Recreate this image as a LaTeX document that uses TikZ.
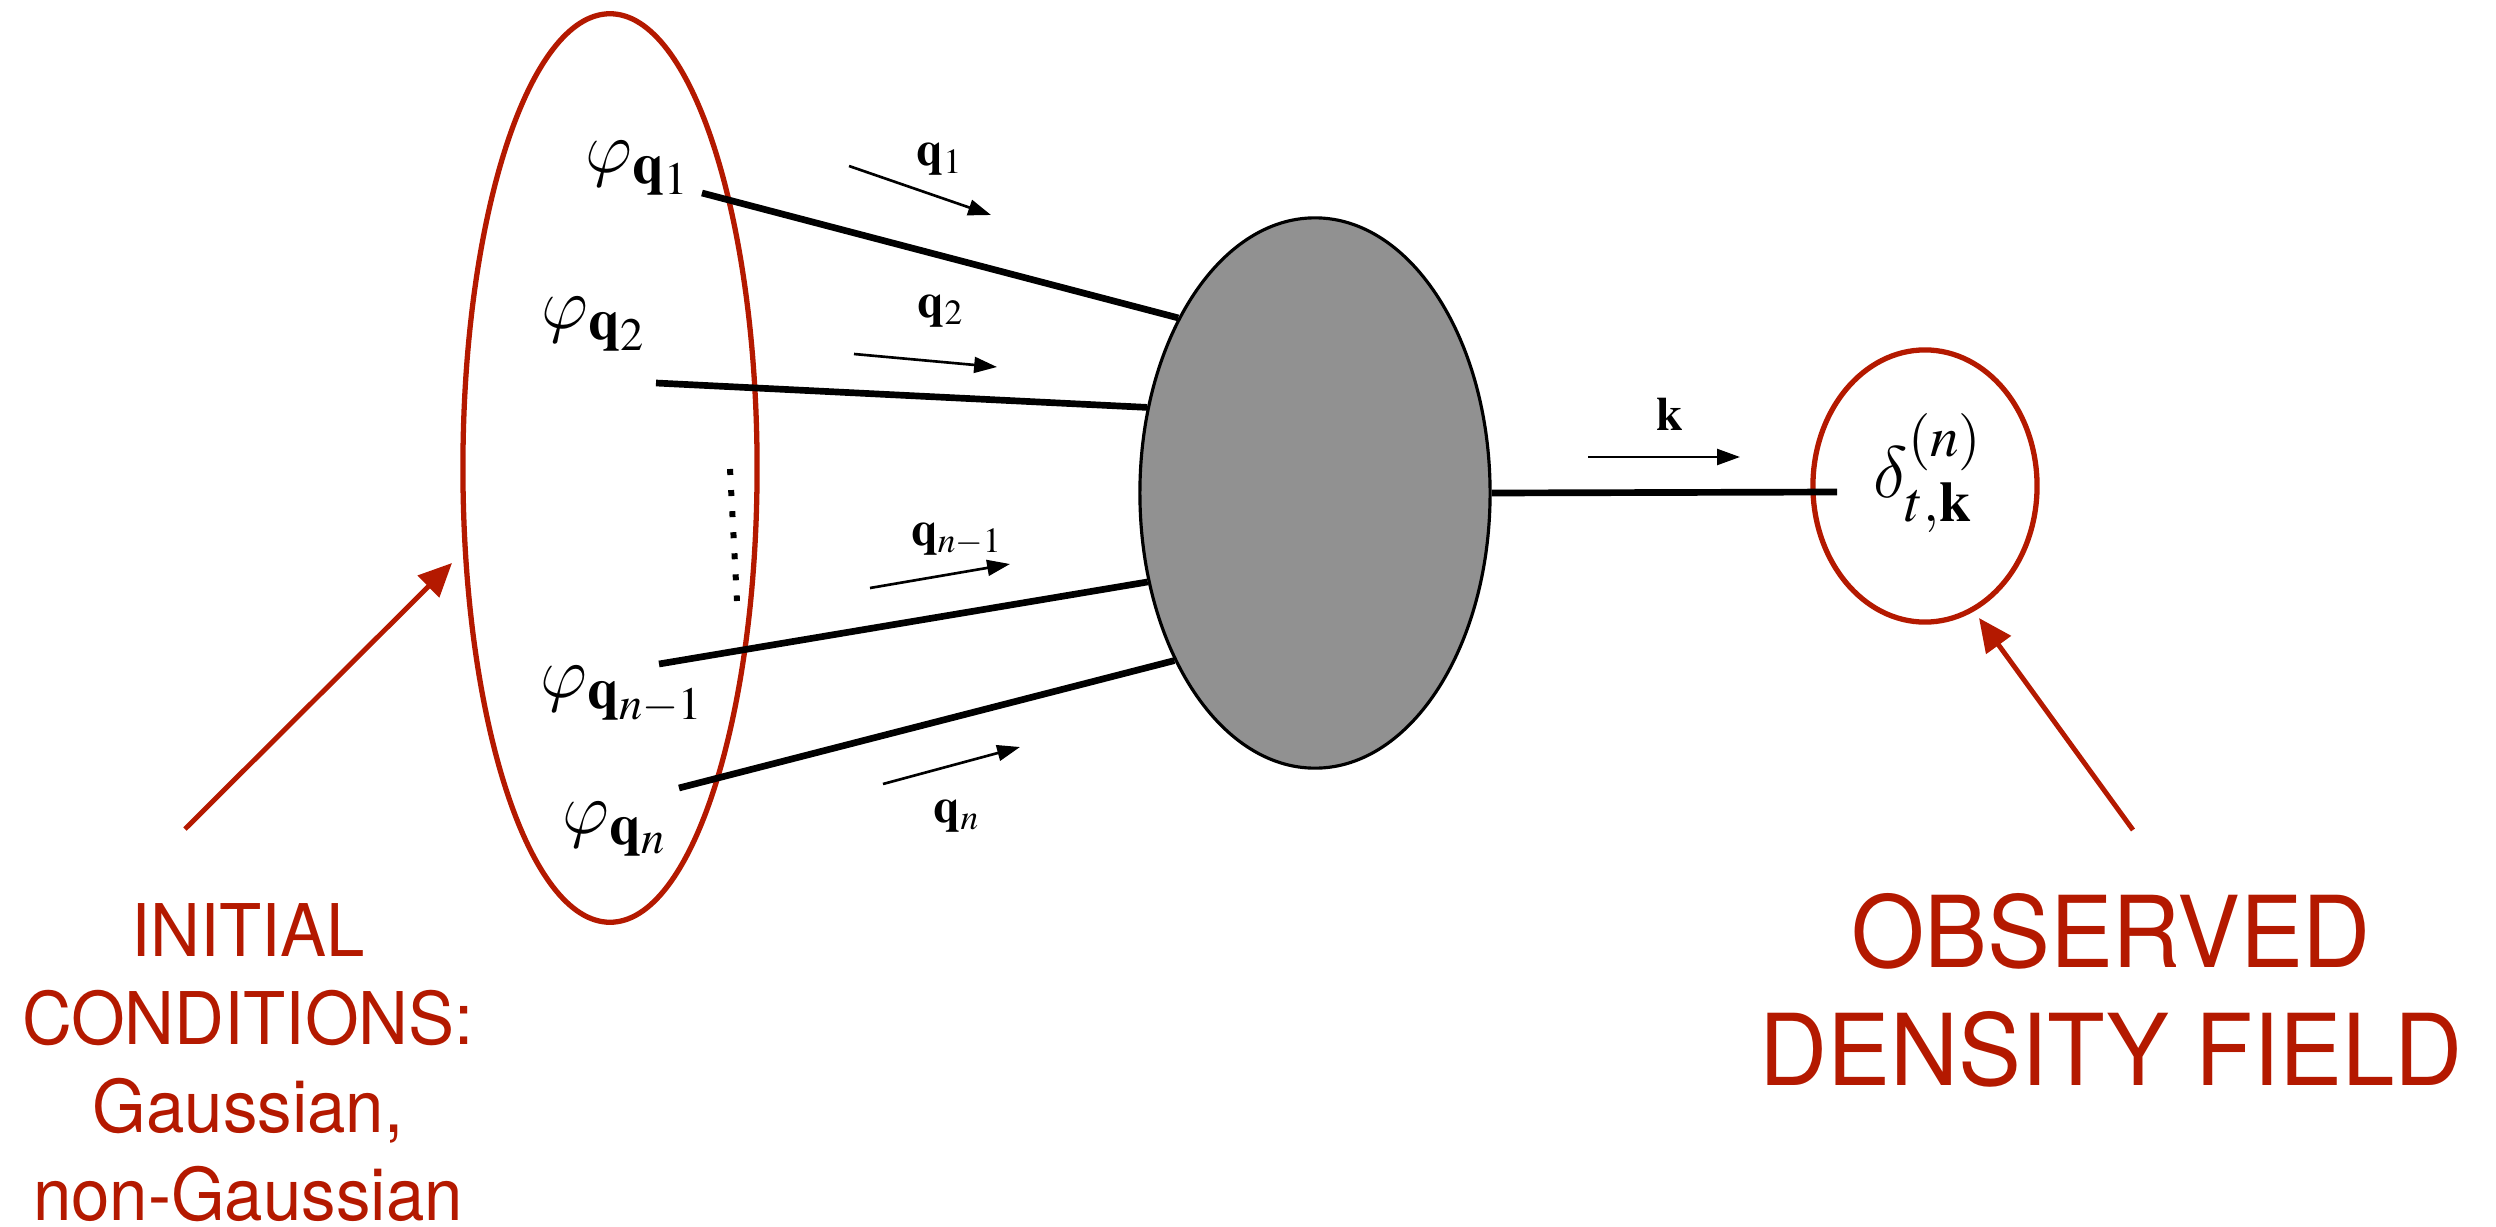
\documentclass[tikz,border=0pt]{standalone}
\usepackage{mathptmx}
\usepackage[no-math]{fontspec}
\usepackage{graphicx}
\usetikzlibrary{shapes.geometric,arrows.meta}
\DeclareSymbolFont{cmletters}{OML}{cmm}{m}{it}
\DeclareMathSymbol{\cmvarphi}{\mathord}{cmletters}{"27}
\DeclareMathSymbol{\cmdelta}{\mathord}{cmletters}{"0E}
\newfontfamily\annfont{TeX Gyre Heros}
\definecolor{annred}{RGB}{180,25,0}
\definecolor{blobgray}{RGB}{145,145,145}
\newcommand\sqz[1]{\scalebox{0.95}[1]{#1}}
\begin{document}
\begin{tikzpicture}[x=0.01cm,y=-0.01cm,
  thickline/.style={line width=1.9pt},
  thinarrow/.style={line width=0.75pt,-{Triangle[length=6.5pt,width=4.5pt]}},
  redarrow/.style={draw=annred,line width=1.4pt,-{Triangle[length=9.5pt,width=8.5pt]}},
  redring/.style={draw=annred,line width=1.5pt,ellipse,inner sep=0pt},
  mathlbl/.style={inner sep=0pt,font=\fontsize{22pt}{26pt}\selectfont},
  smalllbl/.style={inner sep=0pt,font=\fontsize{13.6pt}{16pt}\selectfont},
  anntext/.style={inner sep=0pt,align=center,text=annred},
]
\useasboundingbox (0,0) rectangle (2496,1227);

% ellipses
\node[redring,minimum width=2.94cm,minimum height=9.08cm] (ic) at (610,468) {};
\node[redring,minimum width=2.24cm,minimum height=2.72cm] (obs) at (1925,486) {};

% start points of the mode lines
\coordinate (s1) at (702,193);
\coordinate (s2) at (656,383);
\coordinate (s3) at (659,664);
\coordinate (s4) at (679,788);
\coordinate (kend) at (1837,492);

\node[ellipse,draw,fill=blobgray,line width=0.9pt,inner sep=0pt,
      minimum width=3.5cm,minimum height=5.5cm] (blob) at (1315,493) {};

\draw[thickline] (s1) -- (blob.128.1);
\draw[thickline] (s2) -- (blob.153.2);
\draw[thickline] (s3) -- (blob.208.5);
\draw[thickline] (s4) -- (blob.230.1);
\draw[thickline] (blob.east) -- (kend);

% vertical dots
\coordinate (d1) at (730,469);
\coordinate (d2) at (737,601);
\draw[line width=1.7pt,dash pattern=on 1.7pt off 4.3pt] (d1) -- (d2);

% field labels
\node[mathlbl,anchor=base west] (phi1) at (585,172) {$\cmvarphi_{\mathbf{q}_1}$};
\node[mathlbl,anchor=base west] (phi2) at (541,328) {$\cmvarphi_{\mathbf{q}_2}$};
\node[mathlbl,anchor=base west] (phin1) at (540,697) {$\cmvarphi_{\mathbf{q}_{n-1}}$};
\node[mathlbl,anchor=base west] (phin) at (562,833) {$\cmvarphi_{\mathbf{q}_n}$};
\node[mathlbl,anchor=base west] (delta) at (1873,497) {$\cmdelta^{(n)}_{t,\mathbf{k}}$};

% momentum arrows
\coordinate (a1s) at (849,166);  \coordinate (a1e) at (991,215);
\coordinate (a2s) at (854,354);  \coordinate (a2e) at (997,367);
\coordinate (a3s) at (870,588);  \coordinate (a3e) at (1010,564);
\coordinate (a4s) at (883,784);  \coordinate (a4e) at (1020,747);
\coordinate (aks) at (1588,457); \coordinate (ake) at (1740,457);
\draw[thinarrow] (a1s) -- (a1e);
\draw[thinarrow] (a2s) -- (a2e);
\draw[thinarrow] (a3s) -- (a3e);
\draw[thinarrow] (a4s) -- (a4e);
\draw[thinarrow] (aks) -- (ake);

\node[smalllbl,anchor=base] (q1) at (940,166) {$\mathbf{q}_1$};
\node[smalllbl,anchor=base] (q2) at (941,317) {$\mathbf{q}_2$};
\node[smalllbl,anchor=base] (qn1) at (957,545) {$\mathbf{q}_{n-1}$};
\node[smalllbl,anchor=base] (qn) at (957,822) {$\mathbf{q}_n$};
\node[smalllbl,anchor=base] (k) at (1670,430) {$\mathbf{k}$};

% annotations
\node[anntext,anchor=north,font=\annfont\fontsize{20.66pt}{25.04pt}\selectfont] (ictext) at (248,903)
  {\sqz{INITIAL}\\\sqz{CONDITIONS:}\\\sqz{Gaussian,}\\\sqz{non-Gaussian}};
\node[anntext,anchor=north,font=\annfont\fontsize{28.2pt}{33.57pt}\selectfont] (obstext) at (2111,893)
  {\sqz{OBSERVED}\\\sqz{DENSITY FIELD}};

\coordinate (r1s) at (185,829); \coordinate (r1e) at (452,563);
\coordinate (r2s) at (2133,830); \coordinate (r2e) at (1979,618);
\draw[redarrow] (r1s) -- (r1e);
\draw[redarrow] (r2s) -- (r2e);
\end{tikzpicture}
\end{document}
